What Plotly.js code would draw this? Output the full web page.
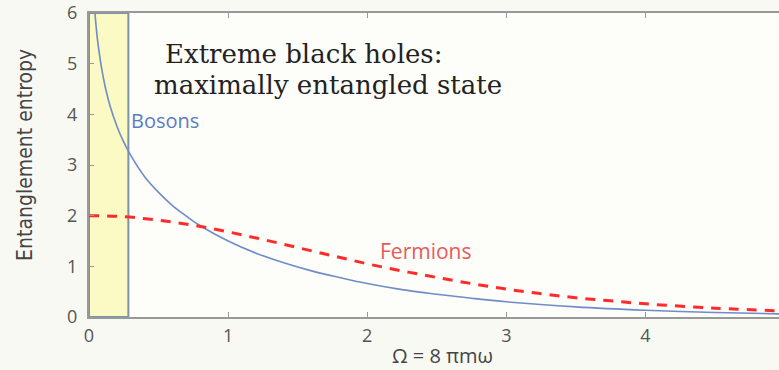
<!DOCTYPE html>
<html>
<head>
<meta charset="utf-8">
<script src="https://cdn.plot.ly/plotly-3.0.1.min.js"></script>
<style>html,body{margin:0;padding:0;background:#f9f9f4;}#chart{width:779px;height:370px;}</style>
</head>
<body>
<div id="chart"></div>
<script>
// Bosons curve
var bosonX = [0.04, 0.05, 0.06, 0.08, 0.1, 0.12, 0.15, 0.2, 0.25, 0.3, 0.4, 0.5, 0.6, 0.7, 0.8, 1.0, 1.2, 1.4, 1.6, 1.8, 2.0, 2.25, 2.5, 2.75, 3.0, 3.5, 4.0, 4.5, 5.0];
var bosonY = [6.09, 5.77, 5.50, 5.09, 4.77, 4.50, 4.18, 3.77, 3.45, 3.19, 2.77, 2.46, 2.20, 1.99, 1.80, 1.50, 1.26, 1.07, 0.91, 0.78, 0.66, 0.54, 0.45, 0.37, 0.30, 0.20, 0.134, 0.089, 0.059];
// Fermions curve
var fermionX = [0, 0.25, 0.5, 0.75, 1.0, 1.25, 1.5, 1.75, 2.0, 2.25, 2.5, 2.75, 3.0, 3.25, 3.5, 3.75, 4.0, 4.5, 5.0];
var fermionY = [2.00, 1.98, 1.91, 1.81, 1.68, 1.53, 1.37, 1.21, 1.05, 0.91, 0.78, 0.66, 0.55, 0.46, 0.38, 0.32, 0.26, 0.175, 0.116];
// Highlighted region (extreme black holes)
var highlight = [0, 0.283];
var xTicks = [0, 1, 2, 3, 4, 5];
var yTicks = [0, 1, 2, 3, 4, 5, 6];

var traces = [
  {x: bosonX, y: bosonY, type: 'scatter', mode: 'lines', line: {color: '#6f8cc8', width: 1.6, shape: 'spline'}, hoverinfo: 'skip'},
  {x: fermionX, y: fermionY, type: 'scatter', mode: 'lines', line: {color: '#ff2b2b', width: 3, dash: '10px,8px', shape: 'spline'}, hoverinfo: 'skip'}
];

var tickFont = {family: 'Open Sans, Lato, sans-serif', size: 18, color: '#555'};

var layout = {
  width: 779, height: 370,
  margin: {l: 89, r: 0, t: 13, b: 53, pad: 0},
  paper_bgcolor: '#f9f9f4',
  plot_bgcolor: '#fdfdf9',
  showlegend: false,
  xaxis: {range: [0, 4.96], tickvals: xTicks, ticktext: xTicks.map(String), ticks: 'inside', ticklen: 5, tickcolor: '#999',
          showline: true, linecolor: '#999', linewidth: 2, mirror: 'ticks', showgrid: false, zeroline: false,
          tickfont: tickFont, ticklabelstandoff: 1},
  yaxis: {range: [0, 6], tickvals: yTicks, ticktext: yTicks.map(String), ticks: 'inside', ticklen: 5, tickcolor: '#999',
          showline: true, linecolor: '#999', linewidth: 2, mirror: false, showgrid: false, zeroline: false,
          tickfont: tickFont, ticklabelstandoff: 6},
  shapes: [
    {type: 'rect', xref: 'x', yref: 'y', x0: highlight[0], x1: highlight[1], y0: 0, y1: 6,
     fillcolor: '#fbf9c4', line: {color: '#7d93a8', width: 2}, layer: 'below'}
  ],
  annotations: [
    {text: 'Extreme black holes:', xref: 'x', yref: 'y', x: 0.531, y: 5.2, xanchor: 'left', yanchor: 'middle', showarrow: false,
     font: {family: 'DejaVu Serif, Liberation Serif, serif', size: 26, color: '#222'}},
    {text: 'maximally entangled state', xref: 'x', yref: 'y', x: 0.452, y: 4.58, xanchor: 'left', yanchor: 'middle', showarrow: false,
     font: {family: 'DejaVu Serif, Liberation Serif, serif', size: 26, color: '#222'}},
    {text: 'Bosons', xref: 'x', yref: 'y', x: 0.285, y: 3.87, xanchor: 'left', yanchor: 'middle', showarrow: false,
     font: {family: 'Open Sans, Lato, sans-serif', size: 20, color: '#5a7cc4'}},
    {text: 'Fermions', xref: 'x', yref: 'y', x: 2.075, y: 1.30, xanchor: 'left', yanchor: 'middle', showarrow: false,
     font: {family: 'Open Sans, Lato, sans-serif', size: 21, color: '#e85a5a'}},
    {text: 'Entanglement entropy', xref: 'paper', yref: 'paper', x: -0.0928, y: 0.533, textangle: -90, xanchor: 'center', yanchor: 'middle', showarrow: false,
     font: {family: 'Liberation Sans Narrow, DejaVu Sans Condensed, sans-serif', size: 21, color: '#444'}},
    {text: 'Ω = 8 πmω', xref: 'x', yref: 'paper', x: 2.54, y: -0.125, xanchor: 'center', yanchor: 'middle', showarrow: false,
     font: {family: 'Open Sans, Lato, sans-serif', size: 20, color: '#444'}}
  ]
};

Plotly.newPlot('chart', traces, layout, {staticPlot: true, displayModeBar: false});
</script>
</body>
</html>
